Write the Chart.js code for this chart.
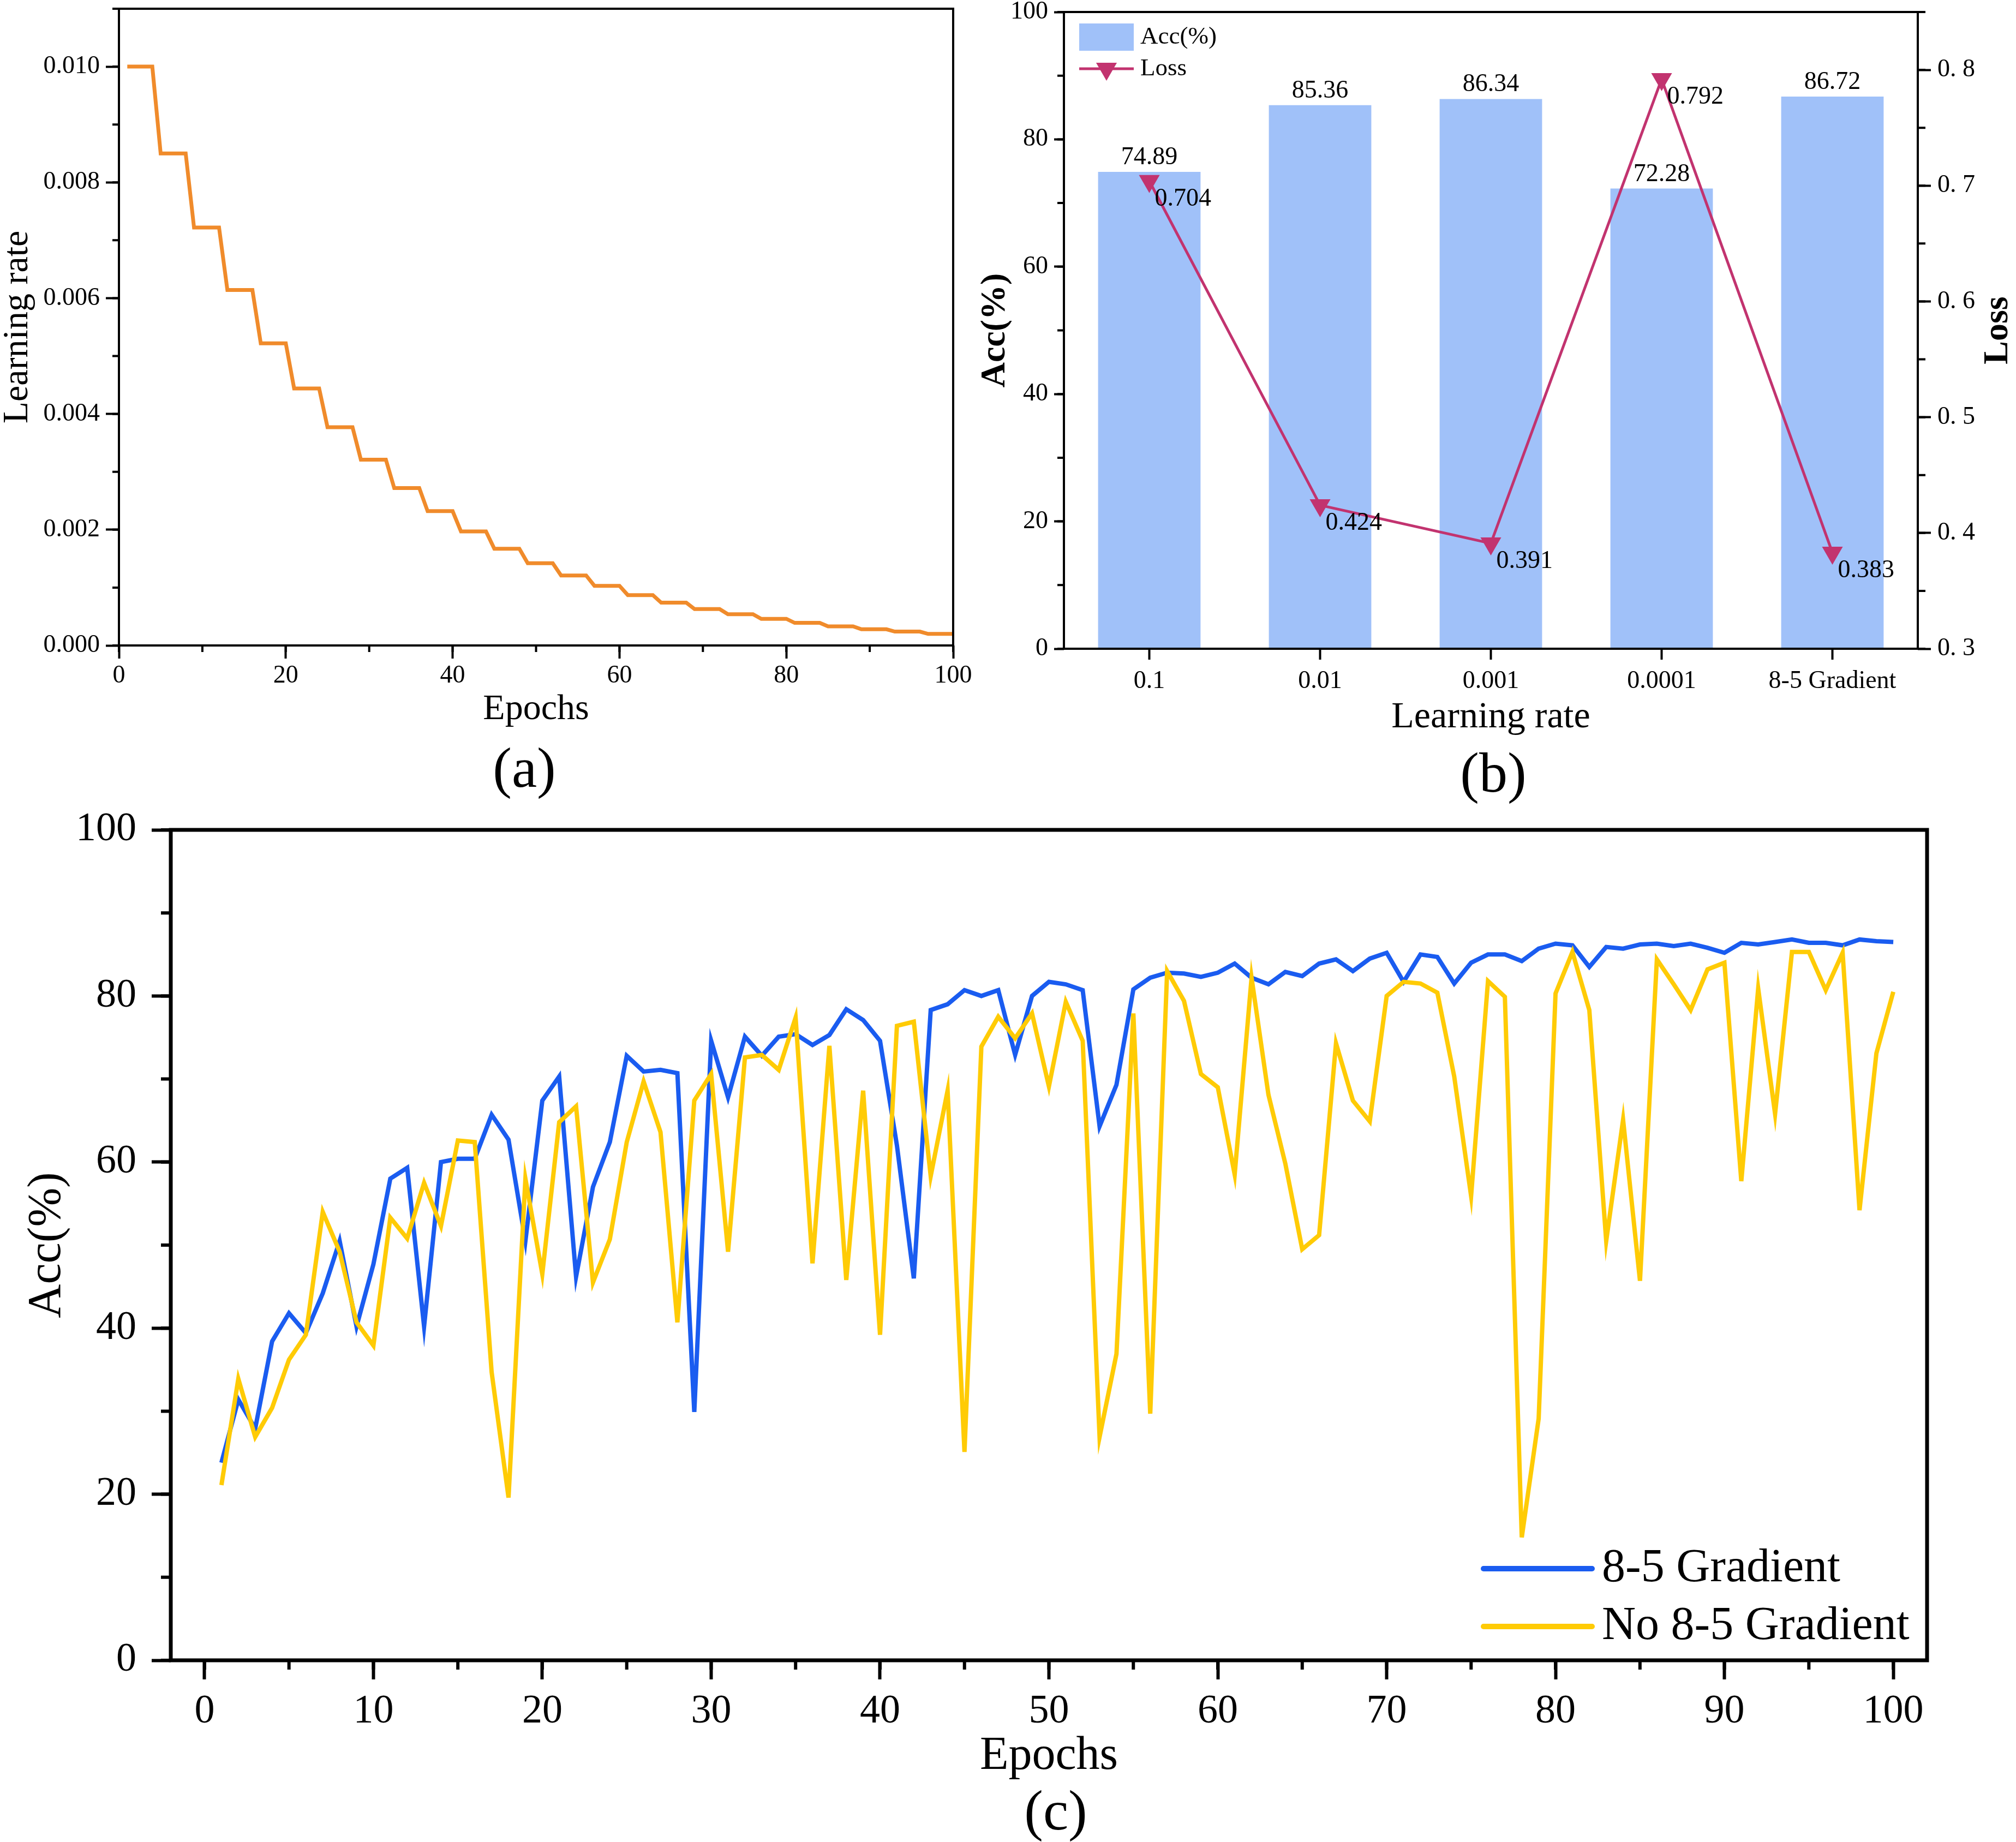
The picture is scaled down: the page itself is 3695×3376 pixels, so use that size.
<!DOCTYPE html>
<html>
<head>
<meta charset="utf-8">
<title>Learning rate schedule and accuracy</title>
<script src="https://cdn.jsdelivr.net/npm/chart.js@4.4.1/dist/chart.umd.min.js"></script>
<style>
    html, body { margin: 0; padding: 0; background: #fff; }
    body {
        width: 3695px;
        height: 3376px;
        position: relative;
        overflow: hidden;
        font-family: 'Liberation Serif', 'Times New Roman', serif;
    }
    canvas { position: absolute; }
    #chartA { left: 0; top: 0; }
    #chartB { left: 1770px; top: 0; }
    #chartC { left: 0; top: 1440px; }
    .panel-tag {
        position: absolute;
        font-size: 104px;
        line-height: 1;
        color: #000;
        transform: translate(-50%, -50%);
    }
</style>
</head>
<body>
<canvas id="chartA" width="1800" height="1360"></canvas>
<canvas id="chartB" width="1925" height="1360"></canvas>
<canvas id="chartC" width="3695" height="1936"></canvas>
<div class="panel-tag" style="left:961px;top:1407px">(a)</div>
<div class="panel-tag" style="left:2737px;top:1416px">(b)</div>
<div class="panel-tag" style="left:1935px;top:3318px">(c)</div>

<script>
// ---------- (a) learning rate schedule ----------
const lrEpochs = Array.from({ length: 100 }, (_, i) => i + 1);
const learningRate = [
    0.0100, 0.0100, 0.0100, 0.0100,
    0.0085, 0.0085, 0.0085, 0.0085,
    0.00722, 0.00722, 0.00722, 0.00722,
    0.00614, 0.00614, 0.00614, 0.00614,
    0.00522, 0.00522, 0.00522, 0.00522,
    0.00444, 0.00444, 0.00444, 0.00444,
    0.00377, 0.00377, 0.00377, 0.00377,
    0.00321, 0.00321, 0.00321, 0.00321,
    0.00272, 0.00272, 0.00272, 0.00272,
    0.00232, 0.00232, 0.00232, 0.00232,
    0.00197, 0.00197, 0.00197, 0.00197,
    0.00167, 0.00167, 0.00167, 0.00167,
    0.00142, 0.00142, 0.00142, 0.00142,
    0.00121, 0.00121, 0.00121, 0.00121,
    0.00103, 0.00103, 0.00103, 0.00103,
    0.00087, 0.00087, 0.00087, 0.00087,
    0.00074, 0.00074, 0.00074, 0.00074,
    0.00063, 0.00063, 0.00063, 0.00063,
    0.00054, 0.00054, 0.00054, 0.00054,
    0.00046, 0.00046, 0.00046, 0.00046,
    0.00039, 0.00039, 0.00039, 0.00039,
    0.00033, 0.00033, 0.00033, 0.00033,
    0.00028, 0.00028, 0.00028, 0.00028,
    0.00024, 0.00024, 0.00024, 0.00024,
    0.00020, 0.00020, 0.00020, 0.00020
];
const lrXTicks = [0, 20, 40, 60, 80, 100];
const lrYTicks = [0, 0.002, 0.004, 0.006, 0.008, 0.010];

// ---------- (b) accuracy / loss per learning rate ----------
const rateCategories = ['0.1', '0.01', '0.001', '0.0001', '8-5 Gradient'];
const accPercent = [74.89, 85.36, 86.34, 72.28, 86.72];
const lossValues = [0.704, 0.424, 0.391, 0.792, 0.383];
const accTicks = [0, 20, 40, 60, 80, 100];
const lossTicks = [0.3, 0.4, 0.5, 0.6, 0.7, 0.8];
const lossTickLabels = ['0. 3', '0. 4', '0. 5', '0. 6', '0. 7', '0. 8'];

// ---------- (c) accuracy per epoch ----------
const epochs = Array.from({ length: 100 }, (_, i) => i + 1);
const accWithGradient = [
    23.8, 31.4, 27.9, 38.4, 41.8, 39.4, 44.2, 50.5, 40.2, 47.7,
    58.0, 59.3, 40.2, 60.0, 60.4, 60.4, 65.7, 62.7, 50.5, 67.4,
    70.3, 46.2, 57.0, 62.4, 72.8, 70.9, 71.1, 70.7, 29.9, 74.6,
    67.8, 75.1, 72.8, 75.1, 75.4, 74.1, 75.3, 78.4, 77.1, 74.6,
    62.0, 46.0, 78.3, 79.0, 80.7, 80.0, 80.7, 72.9, 80.0, 81.7,
    81.4, 80.7, 64.3, 69.3, 80.8, 82.2, 82.8, 82.7, 82.3, 82.8,
    83.9, 82.2, 81.4, 82.9, 82.4, 83.9, 84.4, 83.0, 84.5, 85.2,
    81.7, 85.0, 84.7, 81.5, 84.0, 85.0, 85.0, 84.2, 85.7, 86.3,
    86.1, 83.5, 85.9, 85.7, 86.2, 86.3, 86.0, 86.3, 85.8, 85.2,
    86.4, 86.2, 86.5, 86.8, 86.4, 86.4, 86.1, 86.8, 86.6, 86.5
];
const accWithoutGradient = [
    21.1, 33.9, 26.9, 30.4, 36.2, 39.2, 54.0, 49.2, 40.7, 37.9,
    53.3, 50.8, 57.5, 52.3, 62.6, 62.4, 34.7, 19.6, 58.0, 46.5,
    64.8, 66.7, 45.5, 50.7, 62.4, 69.7, 63.6, 40.7, 67.4, 70.6,
    49.2, 72.6, 72.9, 71.1, 77.4, 47.8, 74.0, 45.8, 68.6, 39.2,
    76.4, 76.9, 58.3, 68.6, 25.1, 73.9, 77.5, 74.9, 77.9, 69.1,
    79.3, 74.6, 26.9, 36.9, 77.9, 29.7, 83.0, 79.4, 70.6, 69.0,
    58.5, 82.2, 68.1, 59.8, 49.5, 51.2, 74.3, 67.4, 64.9, 80.0,
    81.7, 81.5, 80.4, 70.3, 55.9, 81.8, 79.9, 14.8, 29.1, 80.3,
    85.3, 78.3, 50.5, 65.1, 45.7, 84.4, 81.4, 78.3, 83.2, 84.0,
    57.7, 80.9, 65.8, 85.3, 85.3, 80.7, 85.2, 54.2, 73.1, 80.5
];
const epochTicks = [0, 10, 20, 30, 40, 50, 60, 70, 80, 90, 100];
const epochAccTicks = [0, 20, 40, 60, 80, 100];

const FONT = 'Liberation Serif';
Chart.defaults.font.family = FONT;
Chart.defaults.color = '#000';

/**
 * Replaces the generated ticks of a linear scale with a fixed list
 */
function fixedTicks(values) {
    return scale => {
        scale.ticks = values.map(v => ({ value: v }));
    };
}

// Force axis box sizes so the plot frames land where the original has them
function fixWidth(w) {
    return scale => {
        scale.width = w;
        scale.paddingTop = 0;
        scale.paddingBottom = 0;
    };
}

function fixHeight(h) {
    return scale => {
        scale.height = h;
        scale.paddingLeft = 0;
        scale.paddingRight = 0;
    };
}

/**
 * Outward major tick marks, no grid lines inside the plot
 */
function tickGrid(length, width) {
    return {
        drawOnChartArea: false,
        drawTicks: true,
        tickLength: length,
        tickWidth: width,
        tickColor: '#000'
    };
}

/**
 * Box drawn around the whole plot area
 */
function framePlugin(lineWidth) {
    return {
        id: 'frame',
        afterDraw(chart) {
            const { ctx, chartArea: a } = chart;
            ctx.save();
            ctx.strokeStyle = '#000';
            ctx.lineWidth = lineWidth;
            ctx.strokeRect(a.left, a.top, a.right - a.left, a.bottom - a.top);
            ctx.restore();
        }
    };
}

/**
 * Short outward minor ticks, one entry per scale id
 */
function minorTicksPlugin(axes) {
    return {
        id: 'minorTicks',
        afterDraw(chart) {
            const { ctx, chartArea: a } = chart;
            ctx.save();
            ctx.strokeStyle = '#000';
            Object.keys(axes).forEach(id => {
                const m = axes[id];
                const scale = chart.scales[id];
                const first = Math.ceil(scale.min / m.step - 1e-6);
                const last = Math.floor(scale.max / m.step + 1e-6);
                ctx.lineWidth = m.width;
                ctx.beginPath();
                for (let k = first; k <= last; k++) {
                    const p = scale.getPixelForValue(k * m.step);
                    if (scale.position === 'bottom') {
                        ctx.moveTo(p, a.bottom);
                        ctx.lineTo(p, a.bottom + m.length);
                    } else if (scale.position === 'left') {
                        ctx.moveTo(a.left, p);
                        ctx.lineTo(a.left - m.length, p);
                    } else {
                        ctx.moveTo(a.right, p);
                        ctx.lineTo(a.right + m.length, p);
                    }
                }
                ctx.stroke();
            });
            ctx.restore();
        }
    };
}

function drawDownTriangle(ctx, x, y, r) {
    ctx.beginPath();
    ctx.moveTo(x, y + r);
    ctx.lineTo(x - r * Math.sin(Math.PI / 3), y - r / 2);
    ctx.lineTo(x + r * Math.sin(Math.PI / 3), y - r / 2);
    ctx.closePath();
    ctx.fill();
}

/**
 * Legend drawn inside the plot area
 * cfg.x / cfg.y are offsets from the chart area corner given by fromRight / fromBottom
 */
function insideLegendPlugin(cfg) {
    return {
        id: 'insideLegend',
        afterDraw(chart) {
            const { ctx, chartArea: a } = chart;
            const x0 = cfg.fromRight ? a.right - cfg.x : a.left + cfg.x;
            const y0 = cfg.fromBottom ? a.bottom - cfg.y : a.top + cfg.y;
            ctx.save();
            ctx.font = `${cfg.size}px "${FONT}"`;
            ctx.textAlign = 'left';
            ctx.textBaseline = 'middle';
            cfg.rows.forEach((dsIndex, i) => {
                const ds = chart.data.datasets[dsIndex];
                const y = y0 + i * cfg.rowGap;
                if (ds.type === 'bar') {
                    ctx.fillStyle = ds.backgroundColor;
                    ctx.fillRect(x0, y - cfg.boxHeight / 2, cfg.symbolWidth, cfg.boxHeight);
                } else {
                    ctx.strokeStyle = ds.borderColor;
                    ctx.lineWidth = cfg.lineWidth || ds.borderWidth;
                    ctx.lineCap = cfg.lineCap || 'butt';
                    ctx.beginPath();
                    ctx.moveTo(x0, y);
                    ctx.lineTo(x0 + cfg.symbolWidth, y);
                    ctx.stroke();
                    if (ds.pointRadius > 0) {
                        ctx.fillStyle = ds.borderColor;
                        drawDownTriangle(ctx, x0 + cfg.symbolWidth / 2, y, ds.pointRadius);
                    }
                }
                ctx.fillStyle = '#000';
                ctx.fillText(ds.label, x0 + cfg.symbolWidth + cfg.textGap, y);
            });
            ctx.restore();
        }
    };
}

/**
 * Value labels for panel (b): above the bars and beside the loss markers
 */
function valueLabelsPlugin(cfg) {
    return {
        id: 'valueLabels',
        afterDatasetsDraw(chart) {
            const ctx = chart.ctx;
            ctx.save();
            ctx.font = `${cfg.size}px "${FONT}"`;
            ctx.fillStyle = '#000';
            ctx.textBaseline = 'middle';

            const barData = chart.data.datasets[0].data;
            ctx.textAlign = 'center';
            chart.getDatasetMeta(0).data.forEach((bar, i) => {
                ctx.fillText(barData[i].toFixed(2), bar.x, bar.y - cfg.barGap);
            });

            const lossData = chart.data.datasets[1].data;
            ctx.textAlign = 'left';
            chart.getDatasetMeta(1).data.forEach((pt, i) => {
                ctx.fillText(lossData[i].toFixed(3), pt.x + cfg.pointDx, pt.y + cfg.pointDy);
            });
            ctx.restore();
        }
    };
}

/**
 * Title on the right axis, reading bottom to top
 */
function rightTitlePlugin(cfg) {
    return {
        id: 'rightTitle',
        afterDraw(chart) {
            const { ctx, chartArea: a } = chart;
            ctx.save();
            ctx.translate(a.right + cfg.offset, (a.top + a.bottom) / 2);
            ctx.rotate(-Math.PI / 2);
            ctx.font = `bold ${cfg.size}px "${FONT}"`;
            ctx.fillStyle = '#000';
            ctx.textAlign = 'center';
            ctx.textBaseline = 'middle';
            ctx.fillText(cfg.text, 0, 0);
            ctx.restore();
        }
    };
}

const baseOptions = {
    responsive: false,
    animation: false,
    devicePixelRatio: 1,
    events: []
};

// ---------- chart (a) ----------
new Chart(document.getElementById('chartA'), {
    type: 'line',
    data: {
        datasets: [{
            label: 'Learning rate',
            data: lrEpochs.map((e, i) => ({ x: e, y: learningRate[i] })),
            borderColor: '#f08b2b',
            borderWidth: 7,
            pointRadius: 0,
            tension: 0
        }]
    },
    options: {
        ...baseOptions,
        layout: { padding: { top: 16, right: 53, bottom: 0, left: 0 } },
        plugins: { legend: { display: false }, tooltip: { enabled: false } },
        scales: {
            x: {
                type: 'linear',
                min: 0,
                max: 100,
                afterBuildTicks: fixedTicks(lrXTicks),
                afterFit: fixHeight(177),
                border: { display: false },
                grid: tickGrid(24, 4),
                ticks: {
                    font: { size: 46, lineHeight: 1 },
                    padding: 9,
                    autoSkip: false,
                    maxRotation: 0,
                    callback: v => String(v)
                },
                title: {
                    display: true,
                    text: 'Epochs',
                    font: { size: 66, lineHeight: 1 },
                    padding: { top: 0, bottom: 26 }
                }
            },
            y: {
                type: 'linear',
                min: 0,
                max: 0.011,
                afterBuildTicks: fixedTicks(lrYTicks),
                afterFit: fixWidth(218),
                border: { display: false },
                grid: tickGrid(24, 4),
                ticks: {
                    font: { size: 46, lineHeight: 1 },
                    padding: 11,
                    callback: v => v.toFixed(3)
                },
                title: {
                    display: true,
                    text: 'Learning rate',
                    font: { size: 66, lineHeight: 1 },
                    padding: { top: 0, bottom: 0 }
                }
            }
        }
    },
    plugins: [
        framePlugin(4),
        minorTicksPlugin({
            x: { step: 10, length: 12, width: 4 },
            y: { step: 0.001, length: 12, width: 4 }
        })
    ]
});

// ---------- chart (b) ----------
new Chart(document.getElementById('chartB'), {
    type: 'bar',
    data: {
        labels: rateCategories,
        datasets: [
            {
                type: 'bar',
                label: 'Acc(%)',
                data: accPercent,
                yAxisID: 'yAcc',
                backgroundColor: '#a0c1f9',
                borderWidth: 0,
                barPercentage: 0.6,
                categoryPercentage: 1,
                order: 1
            },
            {
                type: 'line',
                label: 'Loss',
                data: lossValues,
                yAxisID: 'yLoss',
                borderColor: '#c2336f',
                backgroundColor: '#c2336f',
                borderWidth: 5,
                pointStyle: 'triangle',
                pointRotation: 180,
                pointRadius: 22,
                pointBorderWidth: 0,
                pointBackgroundColor: '#c2336f',
                tension: 0,
                order: 0
            }
        ]
    },
    options: {
        ...baseOptions,
        layout: { padding: { top: 17, right: 0, bottom: 0, left: 0 } },
        plugins: { legend: { display: false }, tooltip: { enabled: false } },
        scales: {
            x: {
                type: 'category',
                offset: true,
                afterFit: fixHeight(171),
                border: { display: false },
                grid: { ...tickGrid(20, 4), offset: false },
                ticks: {
                    font: { size: 46, lineHeight: 1 },
                    padding: 17,
                    autoSkip: false,
                    maxRotation: 0
                },
                title: {
                    display: true,
                    text: 'Learning rate',
                    font: { size: 68, lineHeight: 1 },
                    padding: { top: 0, bottom: 11 }
                }
            },
            yAcc: {
                type: 'linear',
                position: 'left',
                min: 0,
                max: 100,
                afterBuildTicks: fixedTicks(accTicks),
                afterFit: fixWidth(180),
                border: { display: false },
                grid: tickGrid(18, 4),
                ticks: {
                    font: { size: 46, lineHeight: 1 },
                    padding: 11,
                    callback: v => String(v)
                },
                title: {
                    display: true,
                    text: 'Acc(%)',
                    font: { size: 64, weight: 'bold', lineHeight: 1 },
                    padding: { top: 22, bottom: 0 }
                }
            },
            yLoss: {
                type: 'linear',
                position: 'right',
                min: 0.3,
                max: 0.85,
                afterBuildTicks: fixedTicks(lossTicks),
                afterFit: fixWidth(180),
                border: { display: false },
                grid: tickGrid(24, 4),
                ticks: {
                    font: { size: 46, lineHeight: 1 },
                    padding: 12,
                    callback: (v, i) => lossTickLabels[i]
                }
            }
        }
    },
    plugins: [
        framePlugin(4),
        minorTicksPlugin({
            yAcc: { step: 10, length: 12, width: 4 },
            yLoss: { step: 0.05, length: 14, width: 4 }
        }),
        valueLabelsPlugin({ size: 46, barGap: 26, pointDx: 10, pointDy: 33 }),
        insideLegendPlugin({
            x: 28, y: 46, rowGap: 58, size: 45,
            symbolWidth: 100, boxHeight: 50, textGap: 12,
            rows: [0, 1]
        }),
        rightTitlePlugin({ text: 'Loss', size: 64, offset: 147 })
    ]
});

// ---------- chart (c) ----------
new Chart(document.getElementById('chartC'), {
    type: 'line',
    data: {
        datasets: [
            {
                label: '8-5 Gradient',
                data: epochs.map((e, i) => ({ x: e, y: accWithGradient[i] })),
                borderColor: '#1a5cf0',
                borderWidth: 8,
                pointRadius: 0,
                tension: 0,
                order: 1
            },
            {
                label: 'No 8-5 Gradient',
                data: epochs.map((e, i) => ({ x: e, y: accWithoutGradient[i] })),
                borderColor: '#ffcb05',
                borderWidth: 8,
                pointRadius: 0,
                tension: 0,
                order: 0
            }
        ]
    },
    options: {
        ...baseOptions,
        layout: { padding: { top: 81, right: 163, bottom: 0, left: 0 } },
        plugins: { legend: { display: false }, tooltip: { enabled: false } },
        scales: {
            x: {
                type: 'linear',
                min: -2,
                max: 102,
                afterBuildTicks: fixedTicks(epochTicks),
                afterFit: fixHeight(333),
                border: { display: false },
                grid: tickGrid(35, 6),
                ticks: {
                    font: { size: 74, lineHeight: 1 },
                    padding: 23,
                    autoSkip: false,
                    maxRotation: 0,
                    callback: v => String(v)
                },
                title: {
                    display: true,
                    text: 'Epochs',
                    font: { size: 86, lineHeight: 1 },
                    padding: { top: 0, bottom: 114 }
                }
            },
            y: {
                type: 'linear',
                min: 0,
                max: 100,
                afterBuildTicks: fixedTicks(epochAccTicks),
                afterFit: fixWidth(313),
                border: { display: false },
                grid: tickGrid(35, 6),
                ticks: {
                    font: { size: 74, lineHeight: 1 },
                    padding: 28,
                    callback: v => String(v)
                },
                title: {
                    display: true,
                    text: 'Acc(%)',
                    font: { size: 86, lineHeight: 1 },
                    padding: { top: 44, bottom: 0 }
                }
            }
        }
    },
    plugins: [
        framePlugin(7),
        minorTicksPlugin({
            x: { step: 5, length: 17, width: 6 },
            y: { step: 10, length: 18, width: 6 }
        }),
        insideLegendPlugin({
            x: 813, y: 168, fromRight: true, fromBottom: true,
            rowGap: 106, size: 86,
            symbolWidth: 199, textGap: 18, lineCap: 'round', lineWidth: 10,
            rows: [0, 1]
        })
    ]
});
</script>
</body>
</html>
